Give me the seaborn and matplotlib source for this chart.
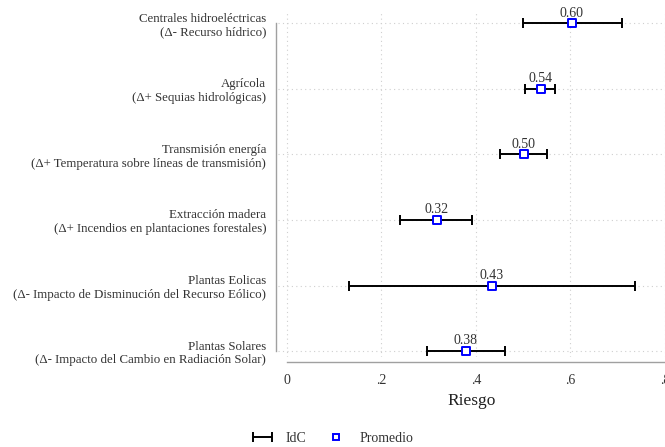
import matplotlib
matplotlib.use("Agg")
import matplotlib.pyplot as plt
import seaborn as sns
import pandas as pd
from matplotlib.lines import Line2D
from matplotlib.legend_handler import HandlerErrorbar

sectores = [
    "Centrales hidroeléctricas\n(Δ- Recurso hídrico)",
    "Agrícola\n(Δ+ Sequias hidrológicas)",
    "Transmisión energía\n(Δ+ Temperatura sobre líneas de transmisión)",
    "Extracción madera\n(Δ+ Incendios en plantaciones forestales)",
    "Plantas Eolicas\n(Δ- Impacto de Disminución del Recurso Eólico)",
    "Plantas Solares\n(Δ- Impacto del Cambio en Radiación Solar)",
]
promedio = [0.603, 0.537, 0.501, 0.317, 0.433, 0.378]
idc_inf = [0.500, 0.504, 0.451, 0.239, 0.131, 0.296]
idc_sup = [0.710, 0.568, 0.551, 0.392, 0.737, 0.462]
xticks = [0, 0.2, 0.4, 0.6, 0.8]
xtick_labels = ["0", ".2", ".4", ".6", ".8"]

df = pd.DataFrame({"sector": sectores, "promedio": promedio,
                   "inf": idc_inf, "sup": idc_sup})
df["pos"] = range(len(df))

sns.set_style("white")
plt.rcParams["font.family"] = ["Liberation Serif", "DejaVu Serif"]
plt.rcParams["font.size"] = 10

fig = plt.figure(figsize=(6.65, 4.47), dpi=100)
ax = fig.add_axes([278 / 665, 1 - 357 / 447, 1 - 278 / 665, (357 - 12) / 447])

# dotted reference grid
for xv in xticks:
    ax.axvline(xv, color="#cfcfcf", lw=0.8, ls=(0, (1, 3)), zorder=0)
for yv in df["pos"]:
    ax.axhline(yv, color="#cfcfcf", lw=0.8, ls=(0, (1, 3)), zorder=0)

# confidence intervals
err = [df["promedio"] - df["inf"], df["sup"] - df["promedio"]]
eb = ax.errorbar(df["promedio"], df["pos"], xerr=err, fmt="none",
                 ecolor="black", elinewidth=1.4, capsize=3.5, capthick=1.4,
                 zorder=2)

# means
sns.scatterplot(data=df, x="promedio", y="pos", marker="s", s=30,
                facecolor="white", edgecolor="#0000ff", linewidth=1.4,
                zorder=3, ax=ax, legend=False)

for _, r in df.iterrows():
    ax.annotate(f"{r['promedio']:.2f}", (r["promedio"], r["pos"]),
                xytext=(0, 2.6), textcoords="offset points",
                ha="center", va="bottom", fontsize=10, color="#333333")

ax.set_xlim(-0.019, 0.8)
ax.set_ylim(5.09, -0.17)
ax.set_xticks(xticks)
ax.set_xticklabels(xtick_labels)
ax.set_yticks(df["pos"])
ax.set_yticklabels(df["sector"], linespacing=1.0)
ax.set_xlabel("Riesgo", fontsize=12.5, labelpad=4, color="#222222")
ax.set_ylabel("")

for s in ["top", "right"]:
    ax.spines[s].set_visible(False)
ax.spines["left"].set_position(("outward", 1.5))
ax.spines["left"].set_bounds(0, 5)
ax.spines["bottom"].set_position(("outward", 3.6))
ax.spines["bottom"].set_bounds(0, 0.8)
for s in ["left", "bottom"]:
    ax.spines[s].set_color("#a0a0a0")
    ax.spines[s].set_linewidth(1.0)
ax.tick_params(axis="both", colors="#a0a0a0", labelcolor="#333333",
               length=4, width=1.0, direction="out")
ax.tick_params(axis="x", pad=5, labelsize=10)
ax.tick_params(axis="y", pad=3, labelsize=9.3)

handles = [eb, Line2D([], [], ls="none", marker="s", markersize=5,
                      markerfacecolor="white", markeredgecolor="#0000ff",
                      markeredgewidth=1.4)]
fig.legend(handles, ["IdC", "Promedio"], loc="center",
           bbox_to_anchor=(333 / 665, 1 - 438 / 447), ncol=2, frameon=False,
           fontsize=10, handlelength=1.4, handletextpad=1.0,
           columnspacing=1.4, labelcolor="#333333",
           handler_map={type(eb): HandlerErrorbar(xerr_size=0.7)})

fig.savefig("out.png", dpi=100)
